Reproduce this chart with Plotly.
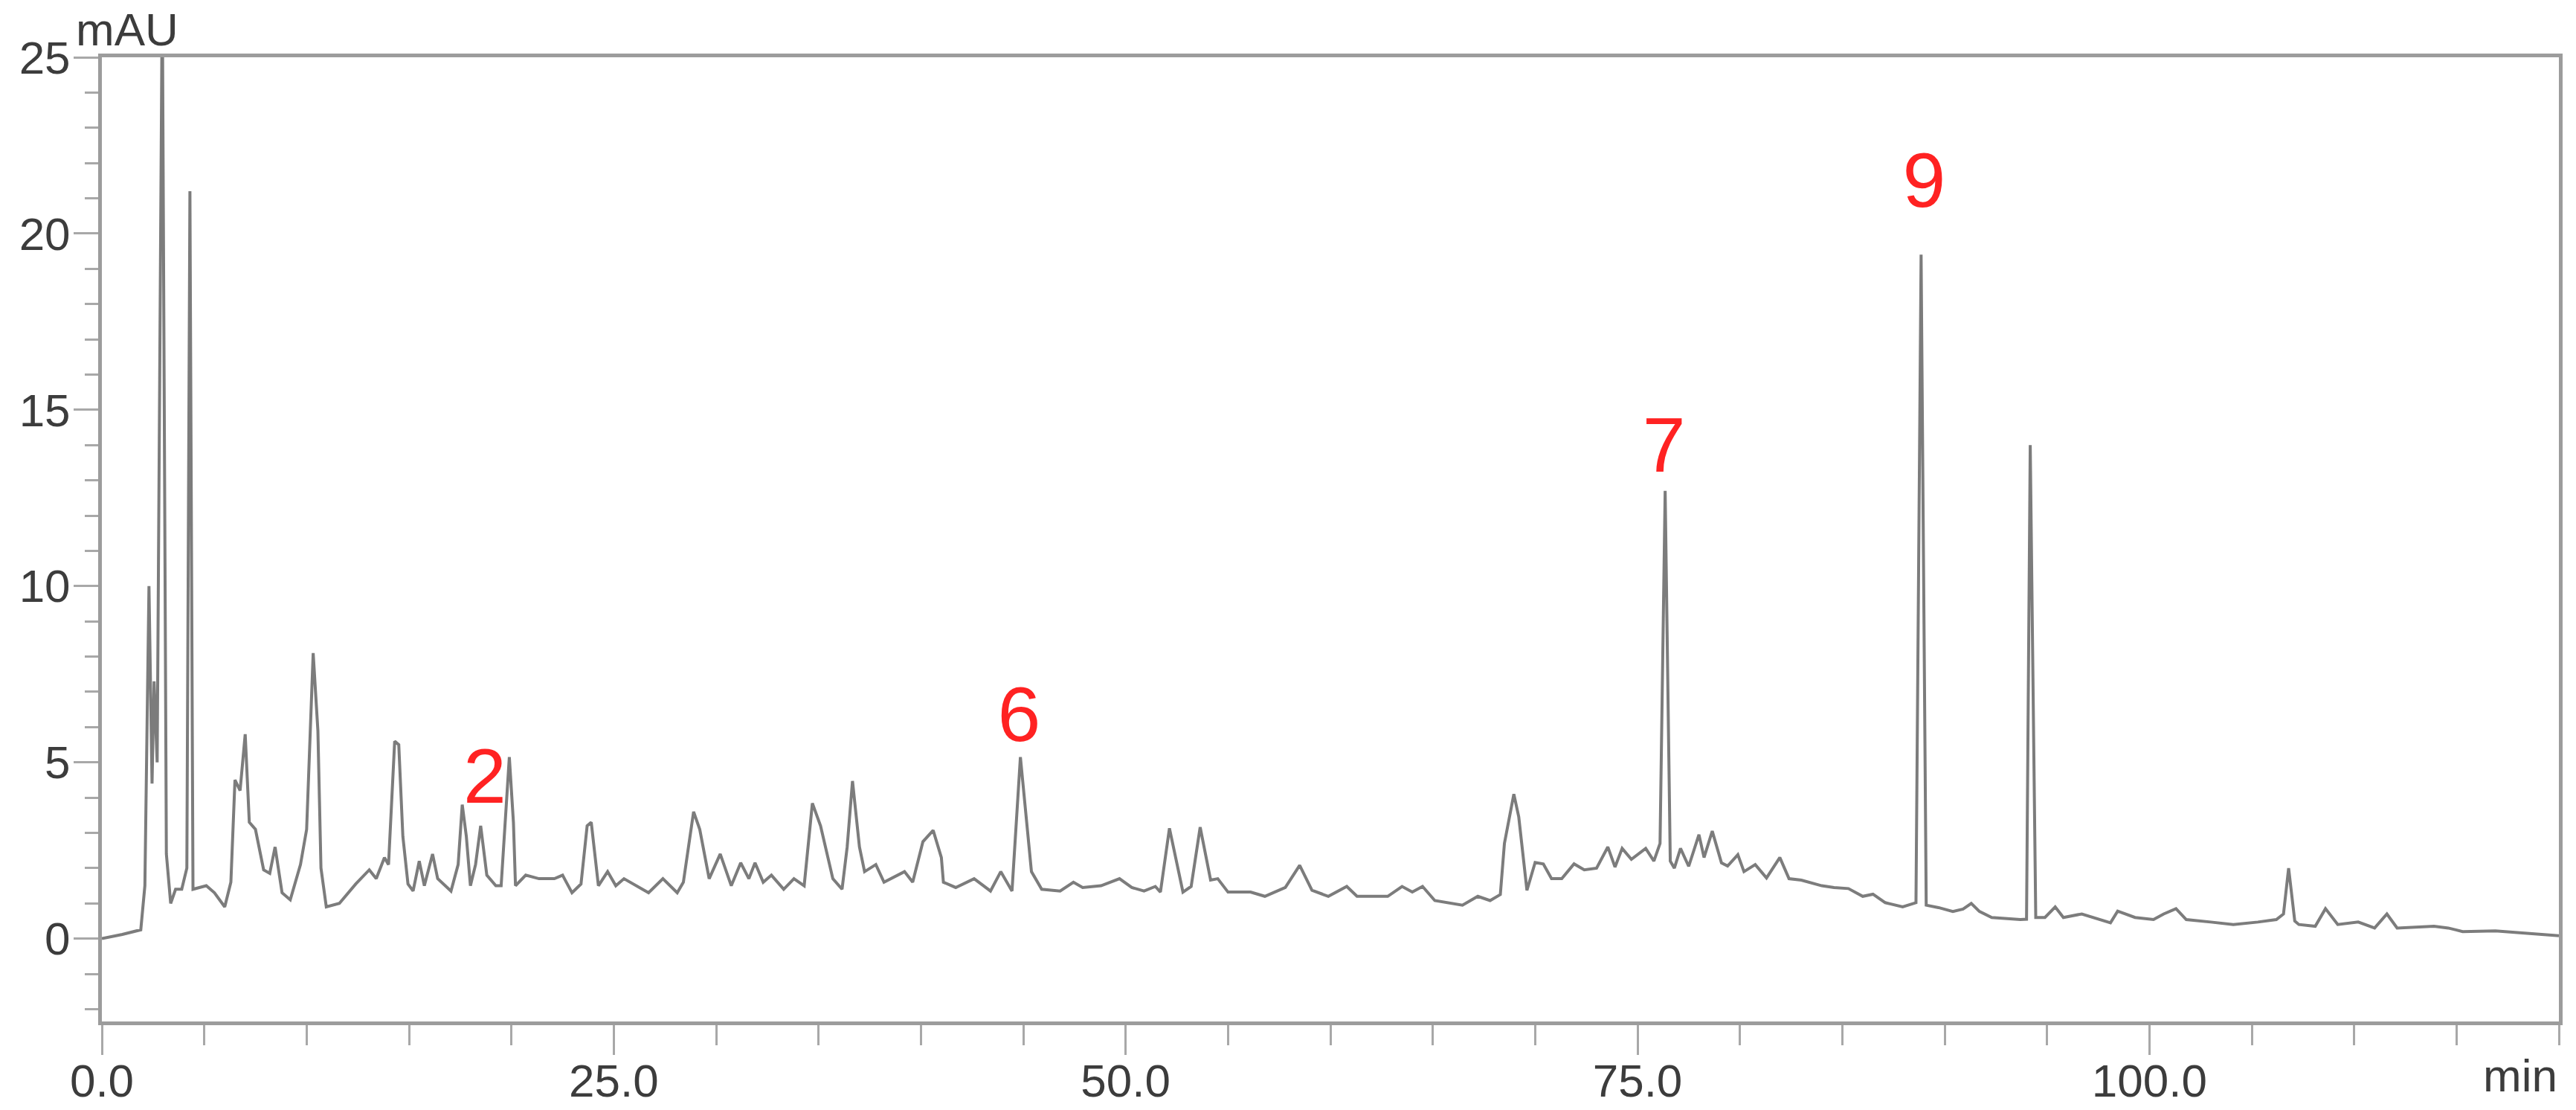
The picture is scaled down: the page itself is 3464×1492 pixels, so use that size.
import plotly.graph_objs as go

#################################### DATOS #############################################
# tiempo de retencion (min) y absorbancia (mAU) leidos del cromatograma
tiempo = [
    0.0, 1.0, 1.9, 2.1, 2.3, 2.45, 2.55, 2.7, 2.95, 3.15, 3.36, 3.6, 3.9, 4.15, 4.3, 4.45,
    5.1, 5.5, 6.0, 6.3, 6.5, 6.75, 7.0, 7.2, 7.5, 7.9, 8.2, 8.46, 8.8, 9.2, 9.7, 10.0,
    10.32, 10.55, 10.7, 10.96, 11.6, 12.4, 13.06, 13.4, 13.8, 14.0, 14.3, 14.5, 14.7, 14.95,
    15.2, 15.5, 15.75, 16.15, 16.4, 17.05, 17.4, 17.6, 17.8, 18.0, 18.25, 18.5, 18.8, 19.24,
    19.5, 19.75, 19.9, 20.1, 20.2, 20.7, 21.35, 22.1, 22.5, 22.96, 23.4, 23.7, 23.9, 24.25,
    24.7, 25.1, 25.5, 26.7, 27.4, 28.1, 28.4, 28.9, 29.2, 29.66, 30.2, 30.74, 31.2, 31.6,
    31.9, 32.3, 32.7, 33.3, 33.8, 34.3, 34.7, 35.1, 35.7, 36.15, 36.4, 36.66, 37.0, 37.25,
    37.8, 38.2, 39.2, 39.6, 40.1, 40.6, 41.0, 41.1, 41.7, 42.6, 43.4, 43.9, 44.45, 44.86,
    45.4, 45.9, 46.8, 47.45, 47.9, 48.8, 49.7, 50.3, 50.9, 51.45, 51.7, 52.14, 52.8, 53.2,
    53.64, 54.15, 54.5, 55.0, 56.1, 56.8, 57.8, 58.5, 59.1, 59.9, 60.8, 61.3, 62.8, 63.5,
    64.0, 64.5, 65.1, 66.45, 67.2, 67.8, 68.3, 68.5, 68.96, 69.2, 69.6, 70.0, 70.4, 70.8,
    71.3, 71.9, 72.4, 73.0, 73.55, 73.9, 74.25, 74.7, 75.4, 75.8, 76.1, 76.35, 76.6, 76.8,
    77.1, 77.5, 78.0, 78.25, 78.65, 79.1, 79.4, 79.9, 80.2, 80.75, 81.3, 81.95, 82.4, 83.0,
    84.0, 84.6, 85.3, 86.0, 86.5, 87.1, 87.95, 88.6, 88.85, 89.1, 89.7, 90.4, 90.9, 91.3,
    91.7, 92.3, 93.7, 94.0, 94.18, 94.45, 94.9, 95.4, 95.8, 96.7, 98.1, 98.45, 99.3, 100.2,
    100.7, 101.3, 101.8, 103.0, 104.1, 105.3, 106.2, 106.55, 106.8, 107.1, 107.3, 108.1,
    108.6, 109.2, 110.2, 111.0, 111.6, 112.1, 113.9, 114.6, 115.3, 116.9, 118.4, 120.0,
]
absorbancia = [
    0.0, 0.12, 0.25, 1.5, 10.0, 4.4, 7.3, 5.0, 27.0, 2.4, 1.0, 1.4, 1.4, 2.0, 21.2, 1.4,
    1.5, 1.3, 0.9, 1.6, 4.5, 4.2, 5.8, 3.3, 3.1, 1.95, 1.85, 2.6, 1.3, 1.1, 2.1, 3.1,
    8.1, 5.9, 2.0, 0.9, 1.0, 1.55, 1.95, 1.7, 2.3, 2.1, 5.6, 5.5, 2.9, 1.55,
    1.35, 2.2, 1.5, 2.4, 1.7, 1.35, 2.1, 3.8, 2.9, 1.5, 2.1, 3.2, 1.8, 1.5,
    1.5, 4.0, 5.15, 3.3, 1.5, 1.8, 1.7, 1.7, 1.8, 1.3, 1.55, 3.2, 3.3, 1.5,
    1.9, 1.5, 1.7, 1.3, 1.7, 1.3, 1.6, 3.6, 3.1, 1.7, 2.4, 1.5, 2.15, 1.7,
    2.15, 1.6, 1.8, 1.4, 1.7, 1.5, 3.84, 3.2, 1.7, 1.4, 2.6, 4.47, 2.6, 1.9,
    2.1, 1.6, 1.9, 1.6, 2.75, 3.07, 2.3, 1.6, 1.45, 1.7, 1.35, 1.9, 1.35, 5.15,
    1.9, 1.4, 1.35, 1.6, 1.45, 1.5, 1.7, 1.45, 1.35, 1.48, 1.32, 3.13, 1.32, 1.48,
    3.16, 1.66, 1.7, 1.32, 1.32, 1.2, 1.45, 2.08, 1.37, 1.2, 1.48, 1.2, 1.2, 1.48,
    1.32, 1.48, 1.08, 0.95, 1.2, 1.08, 1.25, 2.7, 4.1, 3.45, 1.37, 2.16, 2.12, 1.7,
    1.7, 2.12, 1.95, 2.0, 2.6, 2.03, 2.56, 2.25, 2.56, 2.2, 2.7, 12.7, 2.2, 2.0,
    2.56, 2.05, 2.95, 2.3, 3.05, 2.15, 2.06, 2.38, 1.9, 2.1, 1.72, 2.3, 1.7, 1.66,
    1.5, 1.45, 1.42, 1.2, 1.26, 1.02, 0.9, 1.02, 19.4, 0.95, 0.88, 0.77, 0.84, 1.0,
    0.77, 0.6, 0.54, 0.55, 14.0, 0.6, 0.6, 0.9, 0.6, 0.7, 0.45, 0.78, 0.6, 0.54,
    0.7, 0.85, 0.54, 0.47, 0.4, 0.47, 0.54, 0.7, 2.0, 0.5, 0.4, 0.35,
    0.85, 0.4, 0.47, 0.3, 0.7, 0.3, 0.35, 0.3, 0.2, 0.22, 0.15, 0.08,
]

# picos identificados (etiquetas rojas)
picos = ['2', '6', '7', '9']
picos_tiempo = [18.7, 44.8, 76.3, 89.0]
picos_altura = [4.4, 6.15, 13.8, 21.3]

x_ticks = [0, 25, 50, 75, 100]
x_labels = ['0.0', '25.0', '50.0', '75.0', '100.0']
y_ticks = [0, 5, 10, 15, 20, 25]
y_labels = ['0', '5', '10', '15', '20', '25']

fuente = 'Liberation Sans, Arial, sans-serif'
gris_eje = '#9c9c9c'
gris_tick = '#a8a8a8'
gris_texto = '#3c3c3c'

#################################### GRAFICO #############################################
fig = go.Figure()

fig.add_trace(go.Scatter(
    x=tiempo,
    y=absorbancia,
    mode='lines',
    line=dict(color='#7c7c7c', width=4),
    hoverinfo='skip',
))

fig.add_trace(go.Scatter(
    x=picos_tiempo,
    y=picos_altura,
    mode='text',
    text=picos,
    textposition='middle center',
    textfont=dict(family=fuente, size=104, color='#ff2222'),
    hoverinfo='skip',
))

fig.update_xaxes(
    range=[0, 120],
    tickvals=x_ticks,
    ticktext=x_labels,
    ticks='outside',
    ticklen=40,
    tickwidth=3,
    tickcolor=gris_tick,
    ticklabelstandoff=-18,
    minor=dict(dtick=5, tick0=0, ticks='outside', ticklen=27, tickwidth=3, tickcolor=gris_tick),
    showline=True,
    linewidth=5,
    linecolor=gris_eje,
    mirror=True,
    showgrid=False,
    zeroline=False,
    automargin=False,
    tickfont=dict(family=fuente, size=62, color=gris_texto),
)

fig.update_yaxes(
    range=[-2.35, 25],
    tickvals=y_ticks,
    ticktext=y_labels,
    ticks='outside',
    ticklen=33,
    tickwidth=3,
    tickcolor=gris_tick,
    ticklabelstandoff=-8,
    minor=dict(dtick=1, tick0=0, ticks='outside', ticklen=18, tickwidth=3, tickcolor=gris_tick),
    showline=True,
    linewidth=5,
    linecolor=gris_eje,
    mirror=True,
    showgrid=False,
    zeroline=False,
    automargin=False,
    tickfont=dict(family=fuente, size=62, color=gris_texto),
)

fig.add_annotation(
    text='mAU', xref='paper', yref='paper', x=-0.0112, y=1,
    xanchor='left', yanchor='bottom', showarrow=False, yshift=1,
    font=dict(family=fuente, size=62, color=gris_texto),
)
fig.add_annotation(
    text='min', xref='paper', yref='paper', x=1, y=0,
    xanchor='right', yanchor='top', showarrow=False, yshift=-36,
    font=dict(family=fuente, size=62, color=gris_texto),
)

fig.update_layout(
    width=3464,
    height=1492,
    margin=dict(l=137, r=23, t=77, b=119, pad=0),
    showlegend=False,
    plot_bgcolor='#fff',
    paper_bgcolor='#fff',
)

# sin el margen por defecto del body la figura ocupa toda la ventana
fig.write_html(
    'out.html',
    config={'displayModeBar': False},
    post_script="document.body.style.margin = '0px';",
)
